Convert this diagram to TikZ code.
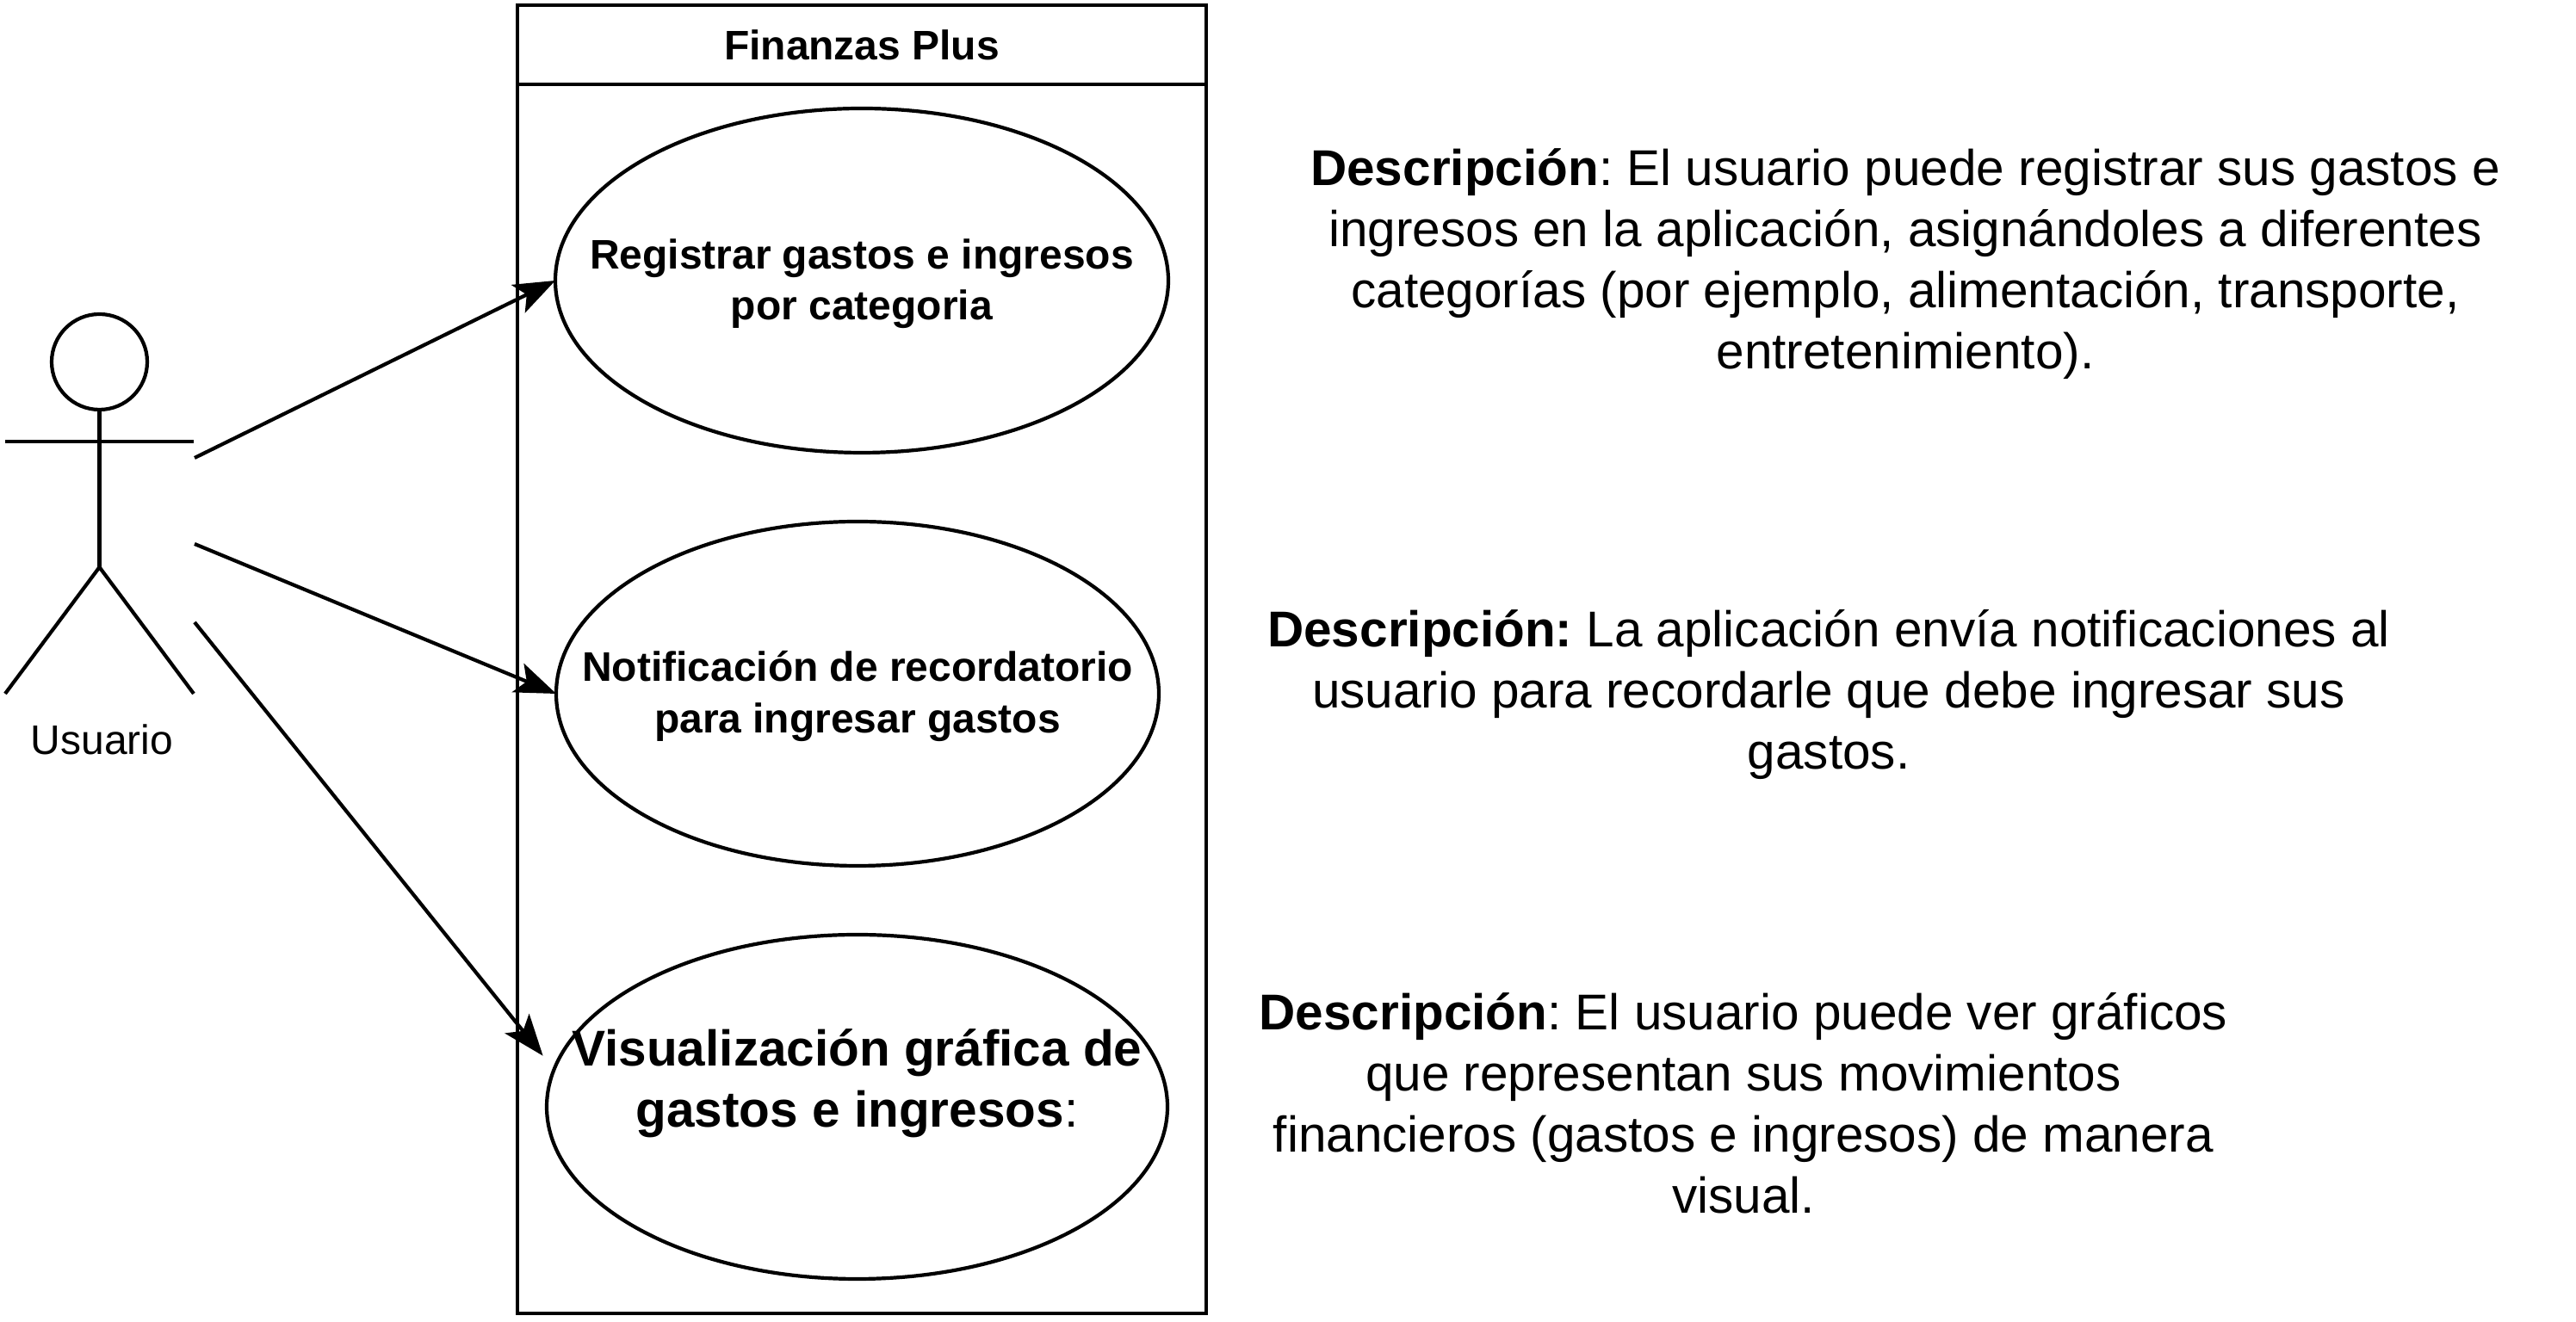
\documentclass[tikz,border=0pt]{standalone}
\usepackage{fontspec}
\setmainfont{Liberation Sans}
\usetikzlibrary{arrows.meta,shapes.geometric}
\frenchspacing

\begin{document}
\begin{tikzpicture}[line width=0.042cm, >={Stealth[length=0.48cm,width=0.36cm,inset=0.11cm]},
                        usecase/.style={ellipse, draw, inner sep=0pt, outer sep=0pt},
                        frame/.style={rectangle, draw, inner sep=0pt, outer sep=0pt, minimum width=8cm},
                        smalltxt/.style={align=center, inner sep=0pt, font=\fontsize{13.65}{16.8}\selectfont},
                        bigtxt/.style={align=center, inner sep=0pt, font=\fontsize{16.64}{20.2}\selectfont}]
        \useasboundingbox (0,0) rectangle (29.92,15.36);
        % System
        \node[frame, minimum height=15.20cm] (sys) at (10.01,7.70) {};
        \node[frame, minimum height=0.92cm, smalltxt] (title) at (10.01,14.84) {\textbf{Finanzas Plus}};
        % Use cases
        \node[usecase, minimum width=7.12cm, minimum height=4.00cm] (reg) at (10.01,12.10) {};
        \node[usecase, minimum width=7.00cm, minimum height=4.00cm] (not) at (9.96,7.30) {};
        \node[usecase, minimum width=7.21cm, minimum height=4.00cm] (vis) at (9.955,2.50) {};
        \node[smalltxt, yshift=-0.04cm] (regtxt) at (reg) {\textbf{Registrar gastos e ingresos}\\\textbf{por categoria}};
        \node[smalltxt, yshift=-0.03cm] (nottxt) at (not) {\textbf{Notificación de recordatorio}\\\textbf{para ingresar gastos}};
        \node[bigtxt] (vistxt) at (9.955,2.77) {\textbf{Visualización gráfica de}\\\textbf{gastos e ingresos}:};
        % Actor
        \node[circle, draw, inner sep=0pt, outer sep=0pt, minimum size=1.11cm] (head) at (1.155,11.155) {};
        \coordinate (hip) at (1.155,8.77);
        \coordinate (armL) at (0.06,10.23);
        \coordinate (armR) at (2.25,10.23);
        \coordinate (footL) at (0.06,7.30);
        \coordinate (footR) at (2.25,7.30);
        \draw (head.south) -- (hip);
        \draw (armL) -- (armR);
        \draw (footL) -- (hip) -- (footR);
        \node[smalltxt] (usr) at (1.185,6.77) {Usuario};
        % Edges
        \coordinate (usr1) at (2.26,10.04);
        \coordinate (usr2) at (2.26,9.04);
        \coordinate (usr3) at (2.26,8.13);
        \draw[->] (usr1) -- (reg.west);
        \draw[->] (usr2) -- (not.west);
        \draw[->, shorten >=0.206cm] (usr3) -- (vis.173);
        % Descriptions
        \node[bigtxt] (desc1) at (22.13,12.29) {\textbf{Descripción}: El usuario puede registrar sus gastos e\\ingresos en la aplicación, asignándoles a diferentes\\categorías (por ejemplo, alimentación, transporte,\\entretenimiento).};
        \node[bigtxt] (desc2) at (21.24,7.29) {\textbf{Descripción:} La aplicación envía notificaciones al\\usuario para recordarle que debe ingresar sus\\gastos.};
        \node[bigtxt] (desc3) at (20.25,2.54) {\textbf{Descripción}: El usuario puede ver gráficos\\que representan sus movimientos\\financieros (gastos e ingresos) de manera\\visual.};
    \end{tikzpicture}
\end{document}
